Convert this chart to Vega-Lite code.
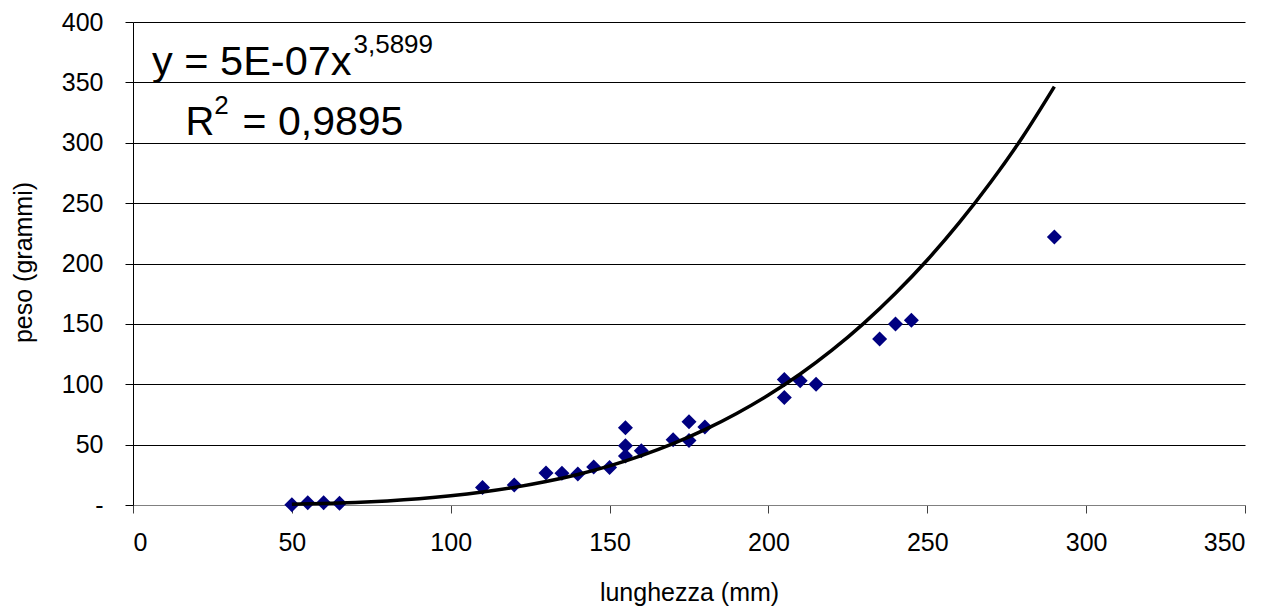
{
  "$schema": "https://vega.github.io/schema/vega-lite/v6.json",
  "width": 1112,
  "height": 483,
  "autosize": {"type": "none"},
  "padding": {"left": 133, "top": 22, "right": 37, "bottom": 105},
  "background": "white",
  "config": {
    "view": {"stroke": null},
    "font": "Liberation Sans",
    "axis": {"labelFont": "Liberation Sans", "titleFont": "Liberation Sans", "labelColor": "black", "titleColor": "black", "titleFontWeight": "normal"}
  },
  "datasets": {
    "points": [
      {"lunghezza": 50, "peso": 0.3},
      {"lunghezza": 55, "peso": 1.9},
      {"lunghezza": 60, "peso": 1.9},
      {"lunghezza": 65, "peso": 1.4},
      {"lunghezza": 110, "peso": 14.5},
      {"lunghezza": 120, "peso": 16.6},
      {"lunghezza": 130, "peso": 26.5},
      {"lunghezza": 135, "peso": 26.2},
      {"lunghezza": 140, "peso": 25.7},
      {"lunghezza": 145, "peso": 31.5},
      {"lunghezza": 150, "peso": 31},
      {"lunghezza": 155, "peso": 64},
      {"lunghezza": 155, "peso": 49},
      {"lunghezza": 155, "peso": 40.5},
      {"lunghezza": 160, "peso": 45},
      {"lunghezza": 170, "peso": 54},
      {"lunghezza": 175, "peso": 69},
      {"lunghezza": 175, "peso": 53.5},
      {"lunghezza": 180, "peso": 64.5},
      {"lunghezza": 205, "peso": 104},
      {"lunghezza": 205, "peso": 89},
      {"lunghezza": 210, "peso": 103},
      {"lunghezza": 215, "peso": 100},
      {"lunghezza": 235, "peso": 137.5},
      {"lunghezza": 240, "peso": 150},
      {"lunghezza": 245, "peso": 153},
      {"lunghezza": 290, "peso": 222}
    ],
    "trend": [
      {"lunghezza": 50, "peso": 0.63},
      {"lunghezza": 60, "peso": 1.21},
      {"lunghezza": 70, "peso": 2.1},
      {"lunghezza": 80, "peso": 3.4},
      {"lunghezza": 90, "peso": 5.2},
      {"lunghezza": 100, "peso": 7.6},
      {"lunghezza": 110, "peso": 10.7},
      {"lunghezza": 120, "peso": 14.6},
      {"lunghezza": 130, "peso": 19.4},
      {"lunghezza": 140, "peso": 25.3},
      {"lunghezza": 150, "peso": 32.4},
      {"lunghezza": 160, "peso": 40.9},
      {"lunghezza": 170, "peso": 50.8},
      {"lunghezza": 180, "peso": 62.4},
      {"lunghezza": 190, "peso": 75.8},
      {"lunghezza": 200, "peso": 91.1},
      {"lunghezza": 210, "peso": 108.5},
      {"lunghezza": 220, "peso": 128.2},
      {"lunghezza": 230, "peso": 150.4},
      {"lunghezza": 240, "peso": 175.3},
      {"lunghezza": 250, "peso": 202.9},
      {"lunghezza": 260, "peso": 233.6},
      {"lunghezza": 270, "peso": 267.5},
      {"lunghezza": 280, "peso": 304.8},
      {"lunghezza": 290, "peso": 346.5}
    ]
  },
  "layer": [
    {
      "data": {"name": "points"},
      "mark": {"type": "point", "shape": "diamond", "filled": true, "size": 225, "color": "#000080", "opacity": 1},
      "encoding": {
        "x": {
          "field": "lunghezza", "type": "quantitative",
          "scale": {"domain": [0, 350], "nice": false, "zero": false},
          "axis": {
            "title": "lunghezza (mm)",
            "values": [0, 50, 100, 150, 200, 250, 300, 350],
            "grid": false,
            "labelFontSize": 25,
            "titleFontSize": 25,
            "tickSize": 8,
            "tickColor": "#404040",
            "domainColor": "#808080",
            "domainWidth": 1,
            "labelPadding": 17,
            "labelAngle": 0,
            "titleBaseline": "alphabetic",
            "titleY": 95
          }
        },
        "y": {
          "field": "peso", "type": "quantitative",
          "scale": {"domain": [0, 400], "nice": false},
          "axis": {
            "title": "peso (grammi)",
            "values": [0, 50, 100, 150, 200, 250, 300, 350, 400],
            "grid": true,
            "gridColor": {"condition": {"test": "datum.value == 0", "value": "#808080"}, "value": "#000000"},
            "gridWidth": 1,
            "labelFontSize": 25,
            "titleFontSize": 25,
            "tickSize": 8,
            "tickColor": "#000000",
            "domainColor": "#000000",
            "labelPadding": 22,
            "labelExpr": "datum.value == 0 ? '-\u00a0\u00a0' : datum.label",
            "titleAngle": -90,
            "titleAlign": "center",
            "titleBaseline": "alphabetic",
            "titleX": -102,
            "titleY": 240
          }
        }
      }
    },
    {
      "data": {"name": "trend"},
      "mark": {"type": "line", "color": "#000000", "strokeWidth": 3.5, "interpolate": "monotone"},
      "encoding": {
        "x": {"field": "lunghezza", "type": "quantitative"},
        "y": {"field": "peso", "type": "quantitative"}
      }
    },
    {
      "data": {"values": [{}]},
      "mark": {"type": "text", "text": "y = 5E-07x", "fontSize": 41.5, "align": "left", "baseline": "alphabetic", "color": "black"},
      "encoding": {"x": {"datum": 6.0}, "y": {"datum": 356.1}}
    },
    {
      "data": {"values": [{}]},
      "mark": {"type": "text", "text": "3,5899", "fontSize": 26, "align": "left", "baseline": "alphabetic", "color": "black"},
      "encoding": {"x": {"datum": 69.4}, "y": {"datum": 374.0}}
    },
    {
      "data": {"values": [{}]},
      "mark": {"type": "text", "text": "R", "fontSize": 40, "align": "left", "baseline": "alphabetic", "color": "black"},
      "encoding": {"x": {"datum": 16.5}, "y": {"datum": 306.4}}
    },
    {
      "data": {"values": [{}]},
      "mark": {"type": "text", "text": "2", "fontSize": 26, "align": "left", "baseline": "alphabetic", "color": "black"},
      "encoding": {"x": {"datum": 25.6}, "y": {"datum": 323.8}}
    },
    {
      "data": {"values": [{}]},
      "mark": {"type": "text", "text": "= 0,9895", "fontSize": 41, "align": "left", "baseline": "alphabetic", "color": "black"},
      "encoding": {"x": {"datum": 34.5}, "y": {"datum": 306.4}}
    }
  ]
}
